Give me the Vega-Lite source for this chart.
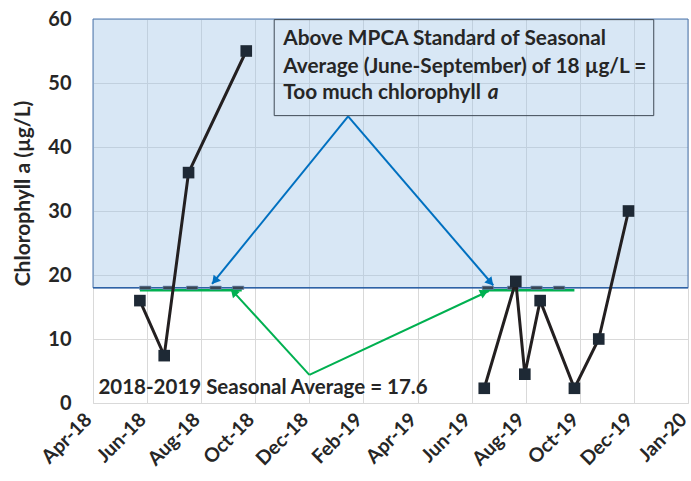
{
  "$schema": "https://vega.github.io/schema/vega-lite/v6.json",
  "width": 595,
  "height": 384,
  "autosize": {"type": "none"},
  "padding": {"left": 93, "top": 19, "right": 3, "bottom": 78},
  "background": "white",
  "config": {
    "font": "Lato",
    "view": {"stroke": "#d9d9d9", "strokeWidth": 1},
    "axis": {"gridColor": "#d9d9d9", "gridWidth": 1, "domain": false, "ticks": false, "labelColor": "#262626", "labelFontWeight": "bold", "titleColor": "#262626"}
  },
  "datasets": {
    "obs": [
      {"date": "2018-06-01", "value": 16, "yr": "2018"},
      {"date": "2018-06-28", "value": 7.4, "yr": "2018"},
      {"date": "2018-07-25", "value": 36, "yr": "2018"},
      {"date": "2018-09-27", "value": 55, "yr": "2018"},
      {"date": "2019-06-18", "value": 2.3, "yr": "2019"},
      {"date": "2019-07-23", "value": 19, "yr": "2019"},
      {"date": "2019-08-02", "value": 4.5, "yr": "2019"},
      {"date": "2019-08-19", "value": 16, "yr": "2019"},
      {"date": "2019-09-26", "value": 2.3, "yr": "2019"},
      {"date": "2019-10-23", "value": 10, "yr": "2019"},
      {"date": "2019-11-25", "value": 30, "yr": "2019"}
    ],
    "std": [
      {"date": "2018-06-07", "value": 18},
      {"date": "2018-07-03", "value": 18},
      {"date": "2018-07-29", "value": 18},
      {"date": "2018-08-24", "value": 18},
      {"date": "2018-09-18", "value": 18},
      {"date": "2019-06-22", "value": 18},
      {"date": "2019-07-20", "value": 18},
      {"date": "2019-08-15", "value": 18},
      {"date": "2019-09-09", "value": 18}
    ],
    "avg": [
      {"date": "2018-06-01", "value": 17.6, "seg": "2018"},
      {"date": "2018-09-22", "value": 17.6, "seg": "2018"},
      {"date": "2019-06-16", "value": 17.6, "seg": "2019"},
      {"date": "2019-09-26", "value": 17.6, "seg": "2019"}
    ],
    "arrows": [
      {"date": "2019-01-18", "value": 44.8, "date2": "2018-08-20", "value2": 18.6, "kind": "standard"},
      {"date": "2019-01-18", "value": 44.8, "date2": "2019-06-28", "value2": 18.4, "kind": "standard"},
      {"date": "2018-12-06", "value": 4.4, "date2": "2018-09-10", "value2": 17.8, "kind": "average"},
      {"date": "2018-12-06", "value": 4.4, "date2": "2019-06-23", "value2": 17.5, "kind": "average"}
    ],
    "boxtext": [
      {"date": "2018-11-07", "value": 56.0, "label": "Above MPCA Standard of Seasonal"},
      {"date": "2018-11-07", "value": 51.6, "label": "Average (June-September) of 18 µg/L ="},
      {"date": "2018-11-07", "value": 47.5, "label": "Too much chlorophyll"}
    ]
  },
  "layer": [
    {
      "data": {"values": [{"date": "2018-04-10", "date2": "2020-01-30", "value": 18, "value2": 60}]},
      "mark": {"type": "rect", "fill": "#9dc3e6", "fillOpacity": 0.4, "stroke": "#4f79b0", "strokeWidth": 1},
      "encoding": {
        "x": {"field": "date", "type": "temporal",
          "scale": {"type": "utc", "domain": [{"year": 2018, "month": 4, "date": 10, "utc": true}, {"year": 2020, "month": 1, "date": 30, "utc": true}]},
          "axis": {
            "values": [
              {"year": 2018, "month": 4, "date": 10, "utc": true},
              {"year": 2018, "month": 6, "date": 9, "utc": true},
              {"year": 2018, "month": 8, "date": 8, "utc": true},
              {"year": 2018, "month": 10, "date": 7, "utc": true},
              {"year": 2018, "month": 12, "date": 6, "utc": true},
              {"year": 2019, "month": 2, "date": 4, "utc": true},
              {"year": 2019, "month": 4, "date": 5, "utc": true},
              {"year": 2019, "month": 6, "date": 4, "utc": true},
              {"year": 2019, "month": 8, "date": 3, "utc": true},
              {"year": 2019, "month": 10, "date": 2, "utc": true},
              {"year": 2019, "month": 12, "date": 1, "utc": true},
              {"year": 2020, "month": 1, "date": 30, "utc": true}
            ],
            "format": "%b-%y", "labelAngle": -45, "labelFontSize": 19.5, "labelPadding": 7, "labelOffset": -11, "title": null, "labelOverlap": false, "labelBound": false, "labelFlush": false
          }},
        "x2": {"field": "date2"},
        "y": {"field": "value", "type": "quantitative",
          "scale": {"domain": [0, 60], "nice": false},
          "axis": {"values": [0, 10, 20, 30, 40, 50, 60], "labelFontSize": 20, "labelPadding": 22,
            "title": "Chlorophyll a (µg/L)", "titleFontSize": 21, "titleFontWeight": "bold", "titlePadding": 14, "titleY": 174}},
        "y2": {"field": "value2"}
      }
    },
    {
      "data": {"values": [{"date": "2018-10-28", "date2": "2019-12-23", "value": 59.9, "value2": 44.9}]},
      "mark": {"type": "rect", "fill": "transparent", "stroke": "#3f4a55", "strokeWidth": 1},
      "encoding": {
        "x": {"field": "date", "type": "temporal"},
        "x2": {"field": "date2"},
        "y": {"field": "value", "type": "quantitative"},
        "y2": {"field": "value2"}
      }
    },
    {
      "data": {"values": [{"value": 18}]},
      "mark": {"type": "rule", "color": "#2e62a6", "strokeWidth": 1.5},
      "encoding": {"y": {"field": "value", "type": "quantitative"}}
    },
    {
      "data": {"name": "avg"},
      "mark": {"type": "line", "color": "#00b050", "strokeWidth": 2.5},
      "encoding": {
        "x": {"field": "date", "type": "temporal"},
        "y": {"field": "value", "type": "quantitative"},
        "detail": {"field": "seg"}
      }
    },
    {
      "data": {"name": "std"},
      "mark": {"type": "point", "shape": "M-1,-0.3L1,-0.3L1,0.3L-1,0.3Z", "size": 130, "filled": true, "fill": "#3a4654", "stroke": "#6a8cb8", "strokeWidth": 0.6, "opacity": 1},
      "encoding": {
        "x": {"field": "date", "type": "temporal"},
        "y": {"field": "value", "type": "quantitative"}
      }
    },
    {
      "data": {"name": "obs"},
      "mark": {"type": "line", "color": "#231f20", "strokeWidth": 3},
      "encoding": {
        "x": {"field": "date", "type": "temporal"},
        "y": {"field": "value", "type": "quantitative"},
        "detail": {"field": "yr"}
      }
    },
    {
      "data": {"name": "obs"},
      "mark": {"type": "point", "shape": "square", "size": 135, "filled": true, "fill": "#1e2935", "opacity": 1},
      "encoding": {
        "x": {"field": "date", "type": "temporal"},
        "y": {"field": "value", "type": "quantitative"}
      }
    },
    {
      "data": {"name": "arrows"},
      "mark": {"type": "rule", "strokeWidth": 2},
      "encoding": {
        "x": {"field": "date", "type": "temporal"},
        "y": {"field": "value", "type": "quantitative"},
        "x2": {"field": "date2"},
        "y2": {"field": "value2"},
        "color": {"field": "kind", "type": "nominal", "scale": {"domain": ["standard", "average"], "range": ["#0070c0", "#00b050"]}, "legend": null}
      }
    },
    {
      "data": {"values": [{"date": "2018-08-23", "value": 19.08}]},
      "mark": {"type": "point", "shape": "triangle-up", "size": 90, "filled": true, "fill": "#0070c0", "opacity": 1, "angle": 219},
      "encoding": {"x": {"field": "date", "type": "temporal"}, "y": {"field": "value", "type": "quantitative"}}
    },
    {
      "data": {"values": [{"date": "2019-06-25", "value": 18.84}]},
      "mark": {"type": "point", "shape": "triangle-up", "size": 90, "filled": true, "fill": "#0070c0", "opacity": 1, "angle": 139},
      "encoding": {"x": {"field": "date", "type": "temporal"}, "y": {"field": "value", "type": "quantitative"}}
    },
    {
      "data": {"values": [{"date": "2018-09-13", "value": 17.36}]},
      "mark": {"type": "point", "shape": "triangle-up", "size": 90, "filled": true, "fill": "#00b050", "opacity": 1, "angle": 317},
      "encoding": {"x": {"field": "date", "type": "temporal"}, "y": {"field": "value", "type": "quantitative"}}
    },
    {
      "data": {"values": [{"date": "2019-06-18", "value": 17.28}]},
      "mark": {"type": "point", "shape": "triangle-up", "size": 90, "filled": true, "fill": "#00b050", "opacity": 1, "angle": 65},
      "encoding": {"x": {"field": "date", "type": "temporal"}, "y": {"field": "value", "type": "quantitative"}}
    },
    {
      "data": {"name": "boxtext"},
      "mark": {"type": "text", "align": "left", "baseline": "alphabetic", "fontSize": 20.8, "fontWeight": "bold", "color": "#262626"},
      "encoding": {
        "x": {"field": "date", "type": "temporal"},
        "y": {"field": "value", "type": "quantitative"},
        "text": {"field": "label"}
      }
    },
    {
      "data": {"values": [{"date": "2019-06-22", "value": 47.5, "label": "a"}]},
      "mark": {"type": "text", "align": "left", "baseline": "alphabetic", "fontSize": 20.8, "fontWeight": "bold", "fontStyle": "italic", "color": "#262626"},
      "encoding": {
        "x": {"field": "date", "type": "temporal"},
        "y": {"field": "value", "type": "quantitative"},
        "text": {"field": "label"}
      }
    },
    {
      "data": {"values": [{"date": "2018-04-16", "value": 1.45, "label": "2018-2019 Seasonal Average = 17.6"}]},
      "mark": {"type": "text", "align": "left", "baseline": "alphabetic", "fontSize": 20.5, "fontWeight": "bold", "color": "#262626"},
      "encoding": {
        "x": {"field": "date", "type": "temporal"},
        "y": {"field": "value", "type": "quantitative"},
        "text": {"field": "label"}
      }
    }
  ]
}
